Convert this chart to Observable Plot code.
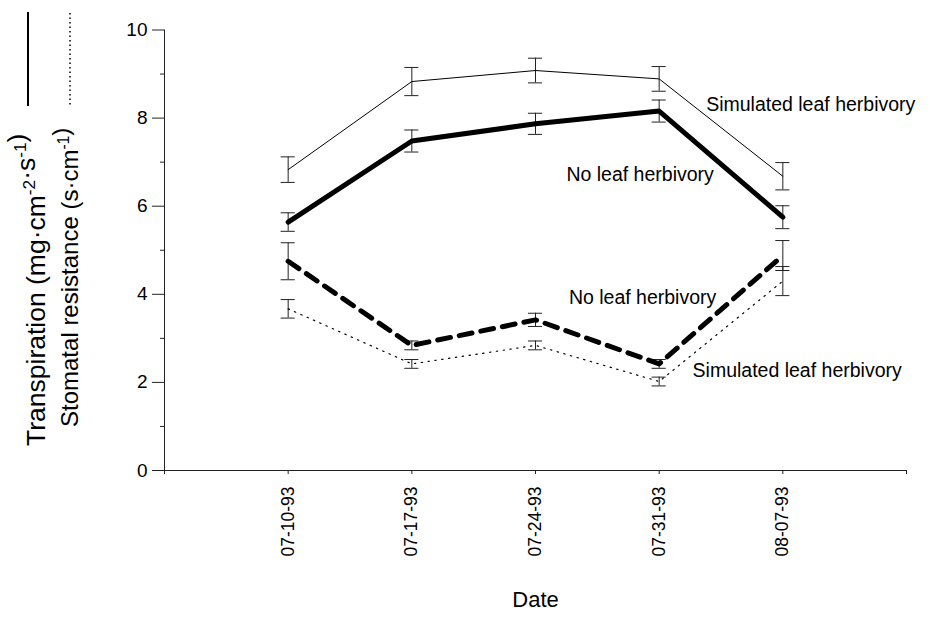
<!DOCTYPE html>
<html><head><meta charset="utf-8">
<script src="https://cdn.jsdelivr.net/npm/d3@7"></script>
<script src="https://cdn.jsdelivr.net/npm/@observablehq/plot@0.6"></script>
<style>
body{margin:0;background:#fff}
svg{font-family:"Liberation Sans",Arial,Helvetica,sans-serif}
</style>
</head><body><div id="chart"></div>
<script>
// ---- data ----
const dates = ["07-10-93","07-17-93","07-24-93","07-31-93","08-07-93"];
const transSim    = [6.83, 8.83, 9.08, 8.89, 6.68];
const transSimErr = [0.29, 0.32, 0.28, 0.28, 0.31];
const transNo     = [5.64, 7.48, 7.87, 8.16, 5.75];
const transNoErr  = [0.21, 0.25, 0.24, 0.25, 0.26];
const resNo       = [4.75, 2.84, 3.42, 2.42, 4.88];
const resNoErr    = [0.42, 0.10, 0.15, 0.10, 0.34];
const resSim      = [3.67, 2.42, 2.84, 2.02, 4.30];
const resSimErr   = [0.21, 0.10, 0.10, 0.10, 0.33];
const yTicks = [0,2,4,6,8,10];
const yMinor = [1,3,5,7,9];
const xTicks = [0,1,2,3,4,5,6];
const annText = ["Simulated leaf herbivory","No leaf herbivory","No leaf herbivory","Simulated leaf herbivory"];
const annX = [4.38, 3.25, 3.27, 4.27];
const annY = [8.31, 6.72, 3.93, 2.27];

const rowsOf = (vals, errs) => vals.map((v,k)=>({x:k+1, date:dates[k], v, lo:v-errs[k], hi:v+errs[k]}));
const sets = [rowsOf(transSim,transSimErr), rowsOf(transNo,transNoErr), rowsOf(resNo,resNoErr), rowsOf(resSim,resSimErr)];
const ann = annText.map((t,i)=>({t, x:annX[i], y:annY[i]}));

const cap = 0.057;
const errMarks = rows => [
  Plot.ruleX(rows,{x:"x",y1:"lo",y2:"hi",stroke:"#222",strokeWidth:1}),
  Plot.ruleY(rows,{y:"lo",x1:d=>d.x-cap,x2:d=>d.x+cap,stroke:"#222",strokeWidth:1}),
  Plot.ruleY(rows,{y:"hi",x1:d=>d.x-cap,x2:d=>d.x+cap,stroke:"#222",strokeWidth:1})
];

const chart = Plot.plot({
  width:930, height:623,
  marginLeft:164, marginRight:24, marginTop:29.5, marginBottom:153,
  x:{domain:[0,6], axis:null},
  y:{domain:[0,10], axis:null},
  style:{fontFamily:"Liberation Sans, Arial, Helvetica, sans-serif", background:"white", color:"black"},
  marks:[
    Plot.ruleX([0],{stroke:"#222"}),
    Plot.ruleY([0],{stroke:"#222"}),
    Plot.axisY({ticks:yTicks, tickSize:12, tickPadding:5, fontSize:19, label:null, tickFormat:d=>String(d), stroke:"#222"}),
    Plot.axisY({ticks:yMinor, tickSize:4, label:null, tickFormat:()=>"", stroke:"#222"}),
    Plot.axisX({ticks:xTicks, tickSize:4, label:null, tickFormat:()=>"", stroke:"#222"}),
    Plot.axisX({ticks:[1,2,3,4,5], tickSize:0, tickPadding:16, tickRotate:-90, fontSize:17.5, label:null, tickFormat:d=>dates[d-1]}),
    ...sets.flatMap(errMarks),
    Plot.line(sets[0],{x:"x",y:"v",stroke:"black",strokeWidth:1}),
    Plot.line(sets[1],{x:"x",y:"v",stroke:"black",strokeWidth:5}),
    Plot.line(sets[2],{x:"x",y:"v",stroke:"black",strokeWidth:5,strokeDasharray:"13,9"}),
    Plot.line(sets[3],{x:"x",y:"v",stroke:"black",strokeWidth:1.2,strokeDasharray:"1.4,5.5"}),
    Plot.text(ann,{x:"x",y:"y",text:"t",textAnchor:"start",lineAnchor:"middle",fontSize:19.5,fill:"black"}),
    Plot.text(["Date"],{frameAnchor:"bottom",dy:136,text:d=>d,fontSize:22,fill:"black"})
  ]
});
document.getElementById("chart").appendChild(chart);

// axis titles with superscripts and legend line samples
const svg = d3.select(chart);
const g = svg.append("g").attr("fill","black");
function title(x, y, size, parts){
  const t = g.append("text").attr("font-size",size).attr("transform",`translate(${x},${y}) rotate(-90)`).attr("text-anchor","start");
  parts.forEach(([s,sup])=>{
    if(sup){ t.append("tspan").attr("font-size",size*0.65).attr("dy",-size*0.36).text(s); t.append("tspan").attr("dy",size*0.36).text(""); }
    else t.append("tspan").text(s);
  });
}
title(45, 446, 26.5, [["Transpiration (mg·cm"],["-2",1],["·s"],["-1",1],[")"]]);
title(78, 427, 24, [["Stomatal resistance (s·cm"],["-1",1],[")"]]);
svg.append("line").attr("x1",28).attr("x2",28).attr("y1",12).attr("y2",106).attr("stroke","black").attr("stroke-width",2);
svg.append("line").attr("x1",70).attr("x2",70).attr("y1",13).attr("y2",105).attr("stroke","black").attr("stroke-width",1.5).attr("stroke-dasharray","1.5,3");
</script>
</body></html>
